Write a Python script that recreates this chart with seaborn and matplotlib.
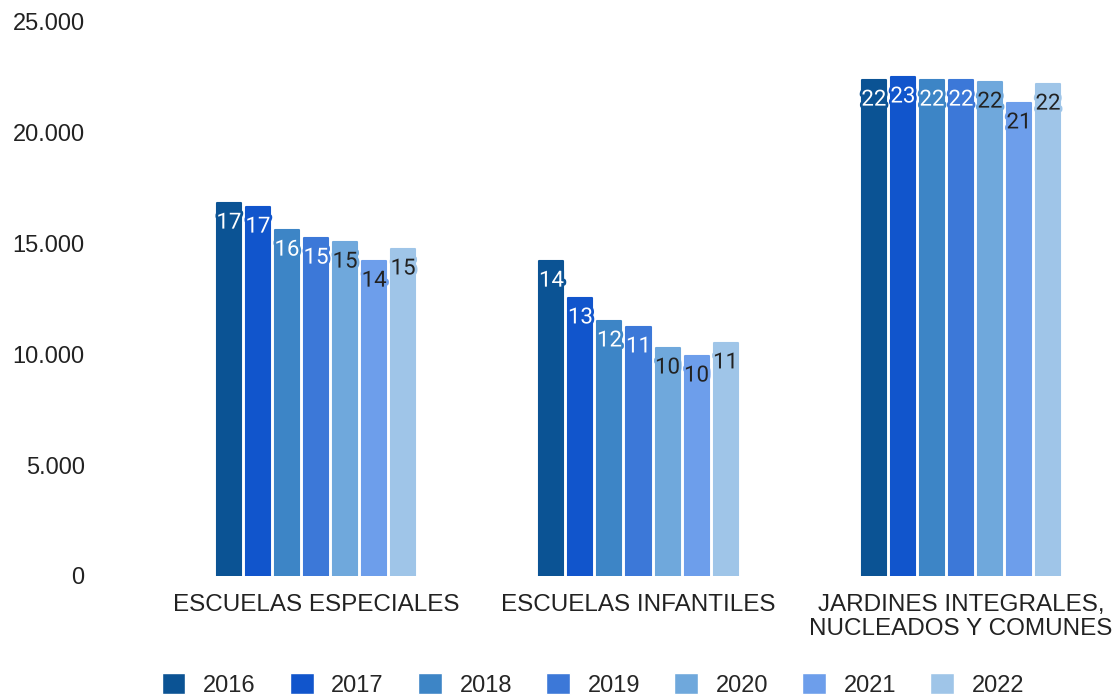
import matplotlib
matplotlib.use("Agg")
import matplotlib.pyplot as plt
import matplotlib.patheffects as pe
from matplotlib.ticker import FuncFormatter
import pandas as pd
import seaborn as sns

# data
categorias = ["ESCUELAS ESPECIALES", "ESCUELAS INFANTILES",
              "JARDINES INTEGRALES,\nNUCLEADOS Y COMUNES"]
anios = ["2016", "2017", "2018", "2019", "2020", "2021", "2022"]
especiales = [16830, 16650, 15610, 15250, 15070, 14210, 14760]
infantiles = [14210, 12550, 11510, 11240, 10290, 9930, 10520]
jardines = [22380, 22520, 22380, 22380, 22290, 21350, 22200]
colores = ["#0b5394", "#1155cc", "#3d85c6", "#3c78d8", "#6fa8dc", "#6d9eeb", "#9fc5e8"]
color_texto = ["white", "white", "white", "white", "#222222", "#222222", "#222222"]

rows = []
for cat, vals in zip(categorias, [especiales, infantiles, jardines]):
    for a, v in zip(anios, vals):
        rows.append({"categoria": cat, "anio": a, "valor": v})
df = pd.DataFrame(rows)

sns.set_theme(style="white")
plt.rcParams['font.family'] = ['Liberation Sans', 'DejaVu Sans']

fig = plt.figure(figsize=(11.18, 6.98), dpi=100)
ax = fig.add_axes([100 / 1118, 1 - 576 / 698, 1 - 100 / 1118, (576 - 22) / 698])

sns.barplot(data=df, x="categoria", y="valor", hue="anio", palette=colores,
            width=0.63, saturation=1, ax=ax, legend=True)

# small gap between bars, slightly rounded corners
gap = 5 / 322.5
for cont in ax.containers:
    for p in cont:
        w = p.get_width()
        p.set_x(p.get_x() + gap / 2)
        p.set_width(w - gap)
        p.set_edgecolor(p.get_facecolor())
        p.set_linewidth(1.5)
        p.set_joinstyle("round")

for cont, col, tcol in zip(ax.containers, colores, color_texto):
    txts = ax.bar_label(cont, labels=[f"{v / 1000:.0f}" for v in cont.datavalues],
                        padding=-22, fontsize=16, color=tcol, family=["Roboto", "DejaVu Sans"])
    for t in txts:
        t.set_path_effects([pe.withStroke(linewidth=4, foreground=col)])

ax.set_xlim(-0.67, 2.487)
ax.set_ylim(0, 25000)
ax.set_yticks([0, 5000, 10000, 15000, 20000, 25000])
ax.yaxis.set_major_formatter(FuncFormatter(lambda v, _: f"{int(v):,}".replace(",", ".")))
ax.tick_params(axis="y", length=0, pad=11, labelsize=17, labelcolor="#222222")
ax.tick_params(axis="x", length=0, pad=13, labelsize=17.5, labelcolor="#222222")
for lab in ax.get_xticklabels():
    lab.set_linespacing(1.1)
ax.set_xlabel("")
ax.set_ylabel("")
sns.despine(ax=ax, left=True, bottom=True)

handles, labels = ax.get_legend_handles_labels()
ax.legend_.remove()
fig.legend(handles, labels, loc="upper center", bbox_to_anchor=(593 / 1118, 1 - 673 / 698),
           ncol=7, frameon=False, fontsize=17, handlelength=1.0, handleheight=1.0,
           handletextpad=0.75, columnspacing=1.45, borderpad=0, borderaxespad=0)

fig.savefig("out.png", dpi=100)
